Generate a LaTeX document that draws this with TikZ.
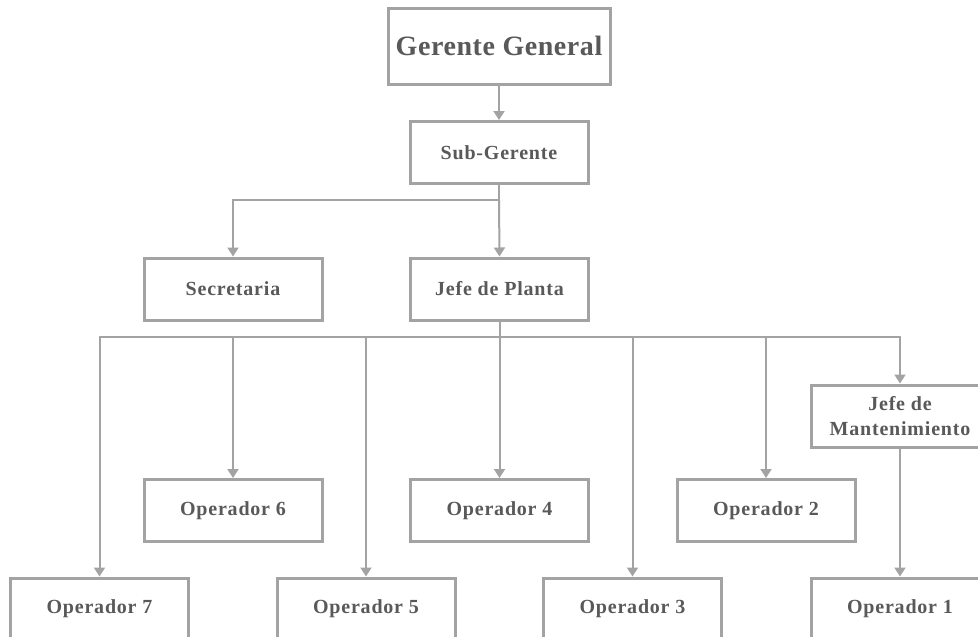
\documentclass[tikz,border=0pt]{standalone}
\usepackage{fontspec}
\setmainfont{Liberation Serif}
\usetikzlibrary{arrows.meta}
\definecolor{txtgray}{RGB}{89,89,89}
\definecolor{linegray}{RGB}{163,163,163}
\newcommand{\boxfont}{\fontsize{20}{25}\selectfont\bfseries\addfontfeature{LetterSpace=4}}
\tikzset{
  box/.style={draw=linegray, line width=3pt, fill=white, text=txtgray,
    minimum width=178pt, minimum height=62pt, inner sep=0pt, align=center,
    font=\boxfont},
  conn/.style={draw=linegray, line width=2pt},
  arr/.style={conn, -{Triangle[width=11pt,length=9pt]}}
}
\begin{document}
\begin{tikzpicture}[x=1pt,y=-1pt]
  \useasboundingbox (0,0) rectangle (978,637);
  \clip (0,0) rectangle (978,637);

  % management levels
  \node[box, minimum width=222pt, minimum height=76pt,
        font=\fontsize{28}{30}\selectfont\bfseries\addfontfeature{LetterSpace=2}] (gg) at (499,46) {Gerente General};
  \node[box] (sub) at (499,152.5) {Sub-Gerente};
  \node[box] (sec) at (233,289) {Secretaria};
  \node[box] (jdp) at (499.5,289) {Jefe de Planta};
  \node[box] (jdm) at (900,416) {Jefe de\\Mantenimiento};

  % operators, upper row
  \node[box] (op6) at (233,510.5) {Operador 6};
  \node[box] (op4) at (499.5,510.5) {Operador 4};
  \node[box] (op2) at (766,510.5) {Operador 2};

  % operators, lower row
  \node[box] (op7) at (99.5,609) {Operador 7};
  \node[box] (op5) at (366,609) {Operador 5};
  \node[box] (op3) at (632.5,609) {Operador 3};
  \node[box] (op1) at (900,609) {Operador 1};

  % connectors
  \draw[arr] (gg.south) -- (sub.north);

  \coordinate (b1) at (499,200);
  \draw[conn] (sub.south) -- (b1);
  \draw[arr] (b1) -| (sec.north);
  \draw[arr] (b1) -- (jdp.north);

  \coordinate (b2) at (499.5,337);
  \draw[conn] (jdp.south) -- (b2);
  \foreach \t in {op7,op6,op5,op4,op3,op2,jdm}
    \draw[arr] (b2) -| (\t.north);

  \draw[arr] (jdm.south) -- (op1.north);
\end{tikzpicture}
\end{document}
